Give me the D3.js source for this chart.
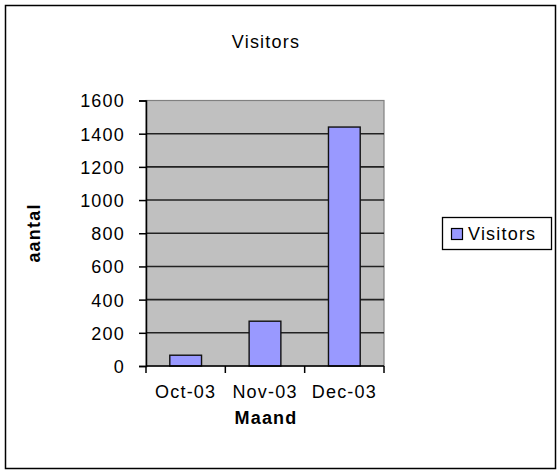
<!DOCTYPE html>
<head>
    <meta charset="utf-8">
    <meta name="viewport" content="width=device-width, initial-scale=1">
</head>
<style>
    body { margin: 0; background: #fff; }
    svg text {
        font-family: "Liberation Sans", Arial, sans-serif;
        font-size: 18px;
        letter-spacing: 1.2px;
        fill: #000;
    }
    .axis-title { font-weight: bold; }
    .grid line { stroke: #222; stroke-width: 1.6px; }
</style>

<svg id="chart" width="560" height="474"></svg>

<script src="https://cdn.jsdelivr.net/npm/d3@7"></script>
<script>

    // data
    var months = ["Oct-03", "Nov-03", "Dec-03"];
    var visitors = [65, 270, 1440];
    var yTicks = [0, 200, 400, 600, 800, 1000, 1200, 1400, 1600];
    var seriesName = "Visitors";

    var svg = d3.select("#chart");

    var plot = {left: 146, right: 384, top: 100.5, bottom: 366};

    var x = d3.scaleBand()
        .domain(months)
        .range([plot.left, plot.right])
        .paddingInner(0.6)
        .paddingOuter(0.3);

    var y = d3.scaleLinear()
        .domain([0, 1600])
        .range([plot.bottom, plot.top]);

    // chart border
    svg.append("rect")
        .attr("x", 5.5).attr("y", 5.5)
        .attr("width", 550).attr("height", 463)
        .attr("fill", "#fff")
        .attr("stroke", "#000")
        .attr("stroke-width", 1.5);

    // plot area
    svg.append("rect")
        .attr("x", plot.left).attr("y", plot.top)
        .attr("width", plot.right - plot.left)
        .attr("height", plot.bottom - plot.top)
        .attr("fill", "#c0c0c0")
        .attr("stroke", "#808080")
        .attr("stroke-width", 1.2);

    // gridlines
    svg.append("g")
        .attr("class", "grid")
        .selectAll("line")
        .data(yTicks.filter(function (d) { return d > 0 && d < 1600; }))
        .enter().append("line")
        .attr("x1", plot.left).attr("x2", plot.right)
        .attr("y1", y).attr("y2", y);

    // bars
    svg.append("g")
        .selectAll("rect")
        .data(visitors)
        .enter().append("rect")
        .attr("x", function (d, i) { return x(months[i]); })
        .attr("y", function (d) { return y(d); })
        .attr("width", x.bandwidth())
        .attr("height", function (d) { return y(0) - y(d); })
        .attr("fill", "#9999ff")
        .attr("stroke", "#111")
        .attr("stroke-width", 1.4);

    // y axis
    var yAxis = svg.append("g")
        .attr("transform", "translate(" + plot.left + ",0)")
        .call(d3.axisLeft(y).tickValues(yTicks).tickFormat(d3.format("d")).tickSize(7).tickPadding(14));
    yAxis.select(".domain").attr("stroke", "#000").attr("stroke-width", 1.5);
    yAxis.selectAll(".tick line").attr("stroke", "#000").attr("stroke-width", 1.5);
    yAxis.selectAll("text")
        .attr("font-size", null).attr("font-family", null)
        .attr("dy", "0.36em");

    // x axis: labels at centres, ticks at category boundaries
    var xAxis = svg.append("g")
        .attr("transform", "translate(0," + plot.bottom + ")")
        .call(d3.axisBottom(x).tickSize(0).tickPadding(32));
    xAxis.select(".domain").attr("stroke", "#000").attr("stroke-width", 1.5)
        .attr("d", "M" + plot.left + ",0H" + plot.right);
    xAxis.selectAll("text").attr("font-size", null).attr("font-family", null).attr("dy", "0");

    var bounds = months.map(function (m) { return x(m) - x.step() * 0.3; });
    bounds.push(plot.right);
    xAxis.selectAll(".bound")
        .data(bounds)
        .enter().append("line")
        .attr("class", "bound")
        .attr("x1", function (d) { return d; }).attr("x2", function (d) { return d; })
        .attr("y1", 0).attr("y2", 7)
        .attr("stroke", "#000").attr("stroke-width", 1.5);

    // titles
    svg.append("text")
        .attr("x", 266).attr("y", 48)
        .attr("text-anchor", "middle")
        .text("Visitors");

    svg.append("text")
        .attr("class", "axis-title")
        .attr("x", 266).attr("y", 424)
        .attr("text-anchor", "middle")
        .text("Maand");

    svg.append("text")
        .attr("class", "axis-title")
        .attr("transform", "translate(40,233) rotate(-90)")
        .attr("text-anchor", "middle")
        .text("aantal");

    // legend
    var legend = svg.append("g").attr("transform", "translate(442,217)");
    legend.append("rect")
        .attr("x", 0.5).attr("y", 0.5)
        .attr("width", 109).attr("height", 32)
        .attr("fill", "#fff")
        .attr("stroke", "#000")
        .attr("stroke-width", 1.3);
    legend.append("rect")
        .attr("x", 9.5).attr("y", 11.5)
        .attr("width", 11).attr("height", 11)
        .attr("fill", "#9999ff")
        .attr("stroke", "#000")
        .attr("stroke-width", 1.2);
    legend.append("text")
        .attr("x", 26).attr("y", 23)
        .text(seriesName);

</script>
